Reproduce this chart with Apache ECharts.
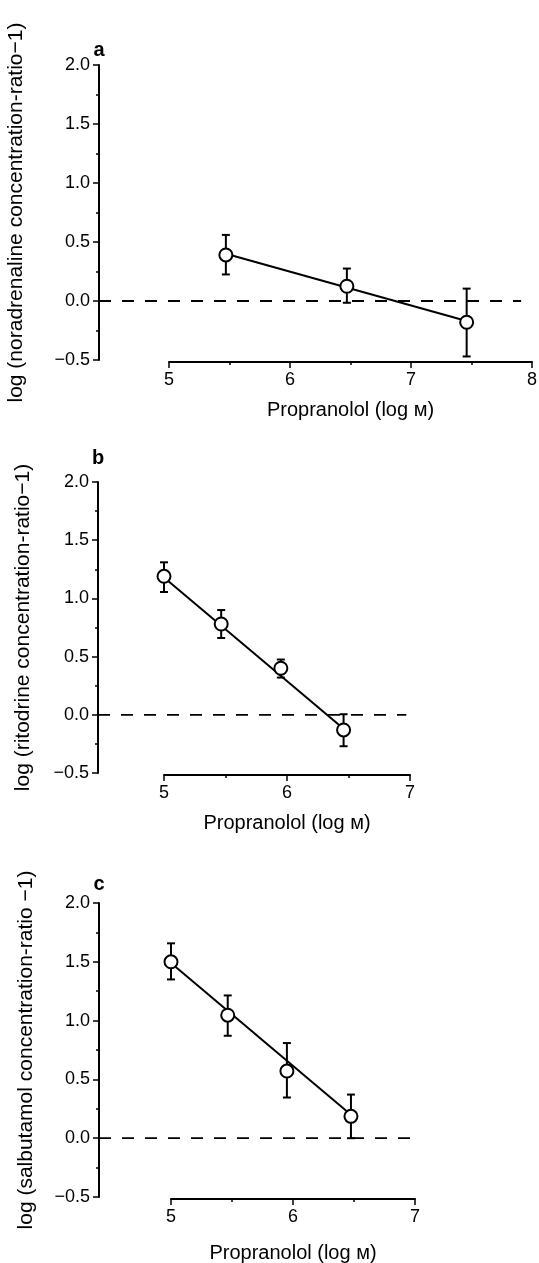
<!DOCTYPE html>
<html>
<head>
<meta charset="utf-8">
<script src="https://cdn.jsdelivr.net/npm/echarts@6/dist/echarts.min.js"></script>
<style>
  body { margin: 0; background: #fff; }
  #chart { width: 539px; height: 1263px; }
</style>
</head>
<body>
<div id="chart"></div>
<script>
// panel a: noradrenaline
var aX = [5.47, 6.47, 7.46];
var aY = [0.39, 0.125, -0.18];
var aLow = [0.225, -0.015, -0.47];
var aHigh = [0.56, 0.275, 0.105];
var aFitX = [5.47, 7.46];
var aFitY = [0.40, -0.17];
var aZeroEnd = 7.91;

// panel b: ritodrine
var bX = [5.0, 5.465, 5.95, 6.46];
var bY = [1.19, 0.78, 0.40, -0.13];
var bLow = [1.055, 0.66, 0.32, -0.27];
var bHigh = [1.31, 0.90, 0.475, 0.005];
var bFitX = [5.0, 6.46];
var bFitY = [1.18, -0.12];
var bZeroEnd = 6.97;

// panel c: salbutamol
var cX = [5.0, 5.465, 5.95, 6.475];
var cY = [1.50, 1.046, 0.571, 0.186];
var cLow = [1.35, 0.871, 0.346, 0.0];
var cHigh = [1.657, 1.214, 0.809, 0.371];
var cFitX = [5.0, 6.475];
var cFitY = [1.49, 0.20];
var cZeroEnd = 7.02;

// axes
var yMin = -0.5, yMax = 2.0, yStep = 0.5;
var xRangeA = [5, 8], xRangeB = [5, 7], xRangeC = [5, 7];
var xTitle = "Propranolol (log м)";
var yTitles = [
  "log (noradrenaline concentration-ratio\u22121)",
  "log (ritodrine concentration-ratio\u22121)",
  "log (salbutamol concentration-ratio \u22121)"
];
var panelLetters = ["a", "b", "c"];

var FONT = "'Liberation Sans', Arial, Helvetica, sans-serif";

// layout in pixels (where each panel sits)
var panels = [
  { yAxisX: 99, top: 65, bottom: 360, axisY: 362, xStart: 169, xEnd: 532, nameGap: 72, titleGap: 38, letterY: 50,
    x: aX, y: aY, low: aLow, high: aHigh, fitX: aFitX, fitY: aFitY, zeroEnd: aZeroEnd, range: xRangeA },
  { yAxisX: 98, top: 482, bottom: 773, axisY: 775, xStart: 164, xEnd: 410, nameGap: 64, titleGap: 38, letterY: 458,
    x: bX, y: bY, low: bLow, high: bHigh, fitX: bFitX, fitY: bFitY, zeroEnd: bZeroEnd, range: xRangeB },
  { yAxisX: 99, top: 903, bottom: 1197, axisY: 1199, xStart: 171, xEnd: 415, nameGap: 62, titleGap: 44, letterY: 884,
    x: cX, y: cY, low: cLow, high: cHigh, fitX: cFitX, fitY: cFitY, zeroEnd: cZeroEnd, range: xRangeC }
];

function minus(s) {
  return String(s).replace("-", "\u2212");
}

function errorBarItem(params, api) {
  var x = api.value(0);
  var hi = api.coord([x, api.value(2)]);
  var lo = api.coord([x, api.value(1)]);
  var w = 4;
  var st = { stroke: "#000", lineWidth: 2 };
  return {
    type: "group",
    children: [
      { type: "line", shape: { x1: hi[0], y1: hi[1], x2: lo[0], y2: lo[1] }, style: st },
      { type: "line", shape: { x1: hi[0] - w, y1: hi[1], x2: hi[0] + w, y2: hi[1] }, style: st },
      { type: "line", shape: { x1: lo[0] - w, y1: lo[1], x2: lo[0] + w, y2: lo[1] }, style: st }
    ]
  };
}

function initChart() {
  var grid = [], xAxis = [], yAxis = [], series = [], graphic = [];

  panels.forEach(function (p, i) {
    var span = p.range[1] - p.range[0];
    var perUnit = (p.xEnd - p.xStart) / span;
    var dataXMin = p.range[0] - (p.xStart - p.yAxisX) / perUnit;
    var g = grid.length;

    // data grid (y axis visible)
    grid.push({ left: p.yAxisX, width: p.xEnd - p.yAxisX, top: p.top, height: p.bottom - p.top,
      containLabel: false, outerBoundsMode: "none" });
    xAxis.push({ gridIndex: g, type: "value", min: dataXMin, max: p.range[1], show: false });
    yAxis.push({
      gridIndex: g, type: "value", min: yMin, max: yMax, interval: yStep,
      name: yTitles[i], nameLocation: "middle", nameRotate: 90, nameGap: p.nameGap,
      nameMoveOverlap: false,
      nameTextStyle: { color: "#000", fontSize: 21, fontFamily: FONT },
      axisLine: { show: true, lineStyle: { color: "#000", width: 2 } },
      axisTick: { show: true, length: 6, lineStyle: { color: "#000", width: 1.5 } },
      minorTick: { show: true, splitNumber: 2, length: 3, lineStyle: { color: "#000", width: 1.5 } },
      axisLabel: {
        color: "#000", fontSize: 18, fontFamily: FONT, margin: 9,
        showMinLabel: true, showMaxLabel: true,
        formatter: function (v) { return minus(v.toFixed(1)); }
      },
      splitLine: { show: false }
    });

    // separate grid for the detached x axis
    grid.push({ left: p.xStart, width: p.xEnd - p.xStart, top: p.axisY - 10, height: 10,
      containLabel: false, outerBoundsMode: "none" });
    xAxis.push({
      gridIndex: g + 1, type: "value", min: p.range[0], max: p.range[1], interval: 1,
      position: "bottom",
      name: xTitle, nameLocation: "middle", nameGap: p.titleGap, nameMoveOverlap: false,
      nameTextStyle: { color: "#000", fontSize: 20, fontFamily: FONT },
      axisLine: { show: true, lineStyle: { color: "#000", width: 2 } },
      axisTick: { show: true, length: 6, lineStyle: { color: "#000", width: 1.5 } },
      minorTick: { show: true, splitNumber: 2, length: 3, lineStyle: { color: "#000", width: 1.5 } },
      axisLabel: { color: "#000", fontSize: 18, fontFamily: FONT, margin: 9,
        showMinLabel: true, showMaxLabel: true },
      splitLine: { show: false }
    });
    yAxis.push({ gridIndex: g + 1, type: "value", show: false });

    var xi = xAxis.length - 2, yi = yAxis.length - 2;

    // dashed zero line
    series.push({
      type: "line", xAxisIndex: xi, yAxisIndex: yi, symbol: "none", silent: true,
      lineStyle: { color: "#000", width: 1.8, type: [12, 11] },
      data: [[dataXMin, 0], [p.zeroEnd, 0]], z: 1
    });
    // fitted line
    series.push({
      type: "line", xAxisIndex: xi, yAxisIndex: yi, symbol: "none", silent: true,
      lineStyle: { color: "#000", width: 2 },
      data: p.fitX.map(function (v, k) { return [v, p.fitY[k]]; }), z: 2
    });
    // error bars
    series.push({
      type: "custom", xAxisIndex: xi, yAxisIndex: yi, renderItem: errorBarItem, silent: true,
      data: p.x.map(function (v, k) { return [v, p.low[k], p.high[k]]; }), z: 3
    });
    // open circles
    series.push({
      type: "scatter", xAxisIndex: xi, yAxisIndex: yi, symbol: "circle", symbolSize: 13,
      itemStyle: { color: "#fff", borderColor: "#000", borderWidth: 2, opacity: 1 },
      data: p.x.map(function (v, k) { return [v, p.y[k]]; }), z: 4
    });

    graphic.push({
      type: "text", x: p.yAxisX, y: p.letterY,
      style: { text: panelLetters[i], fill: "#000", fontSize: 20, fontWeight: "bold",
        fontFamily: FONT, align: "center", verticalAlign: "middle" }
    });
  });

  return {
    animation: false,
    backgroundColor: "#fff",
    grid: grid,
    xAxis: xAxis,
    yAxis: yAxis,
    series: series,
    graphic: graphic
  };
}

var chart = echarts.init(document.getElementById("chart"));
chart.setOption(initChart());
</script>
</body>
</html>
